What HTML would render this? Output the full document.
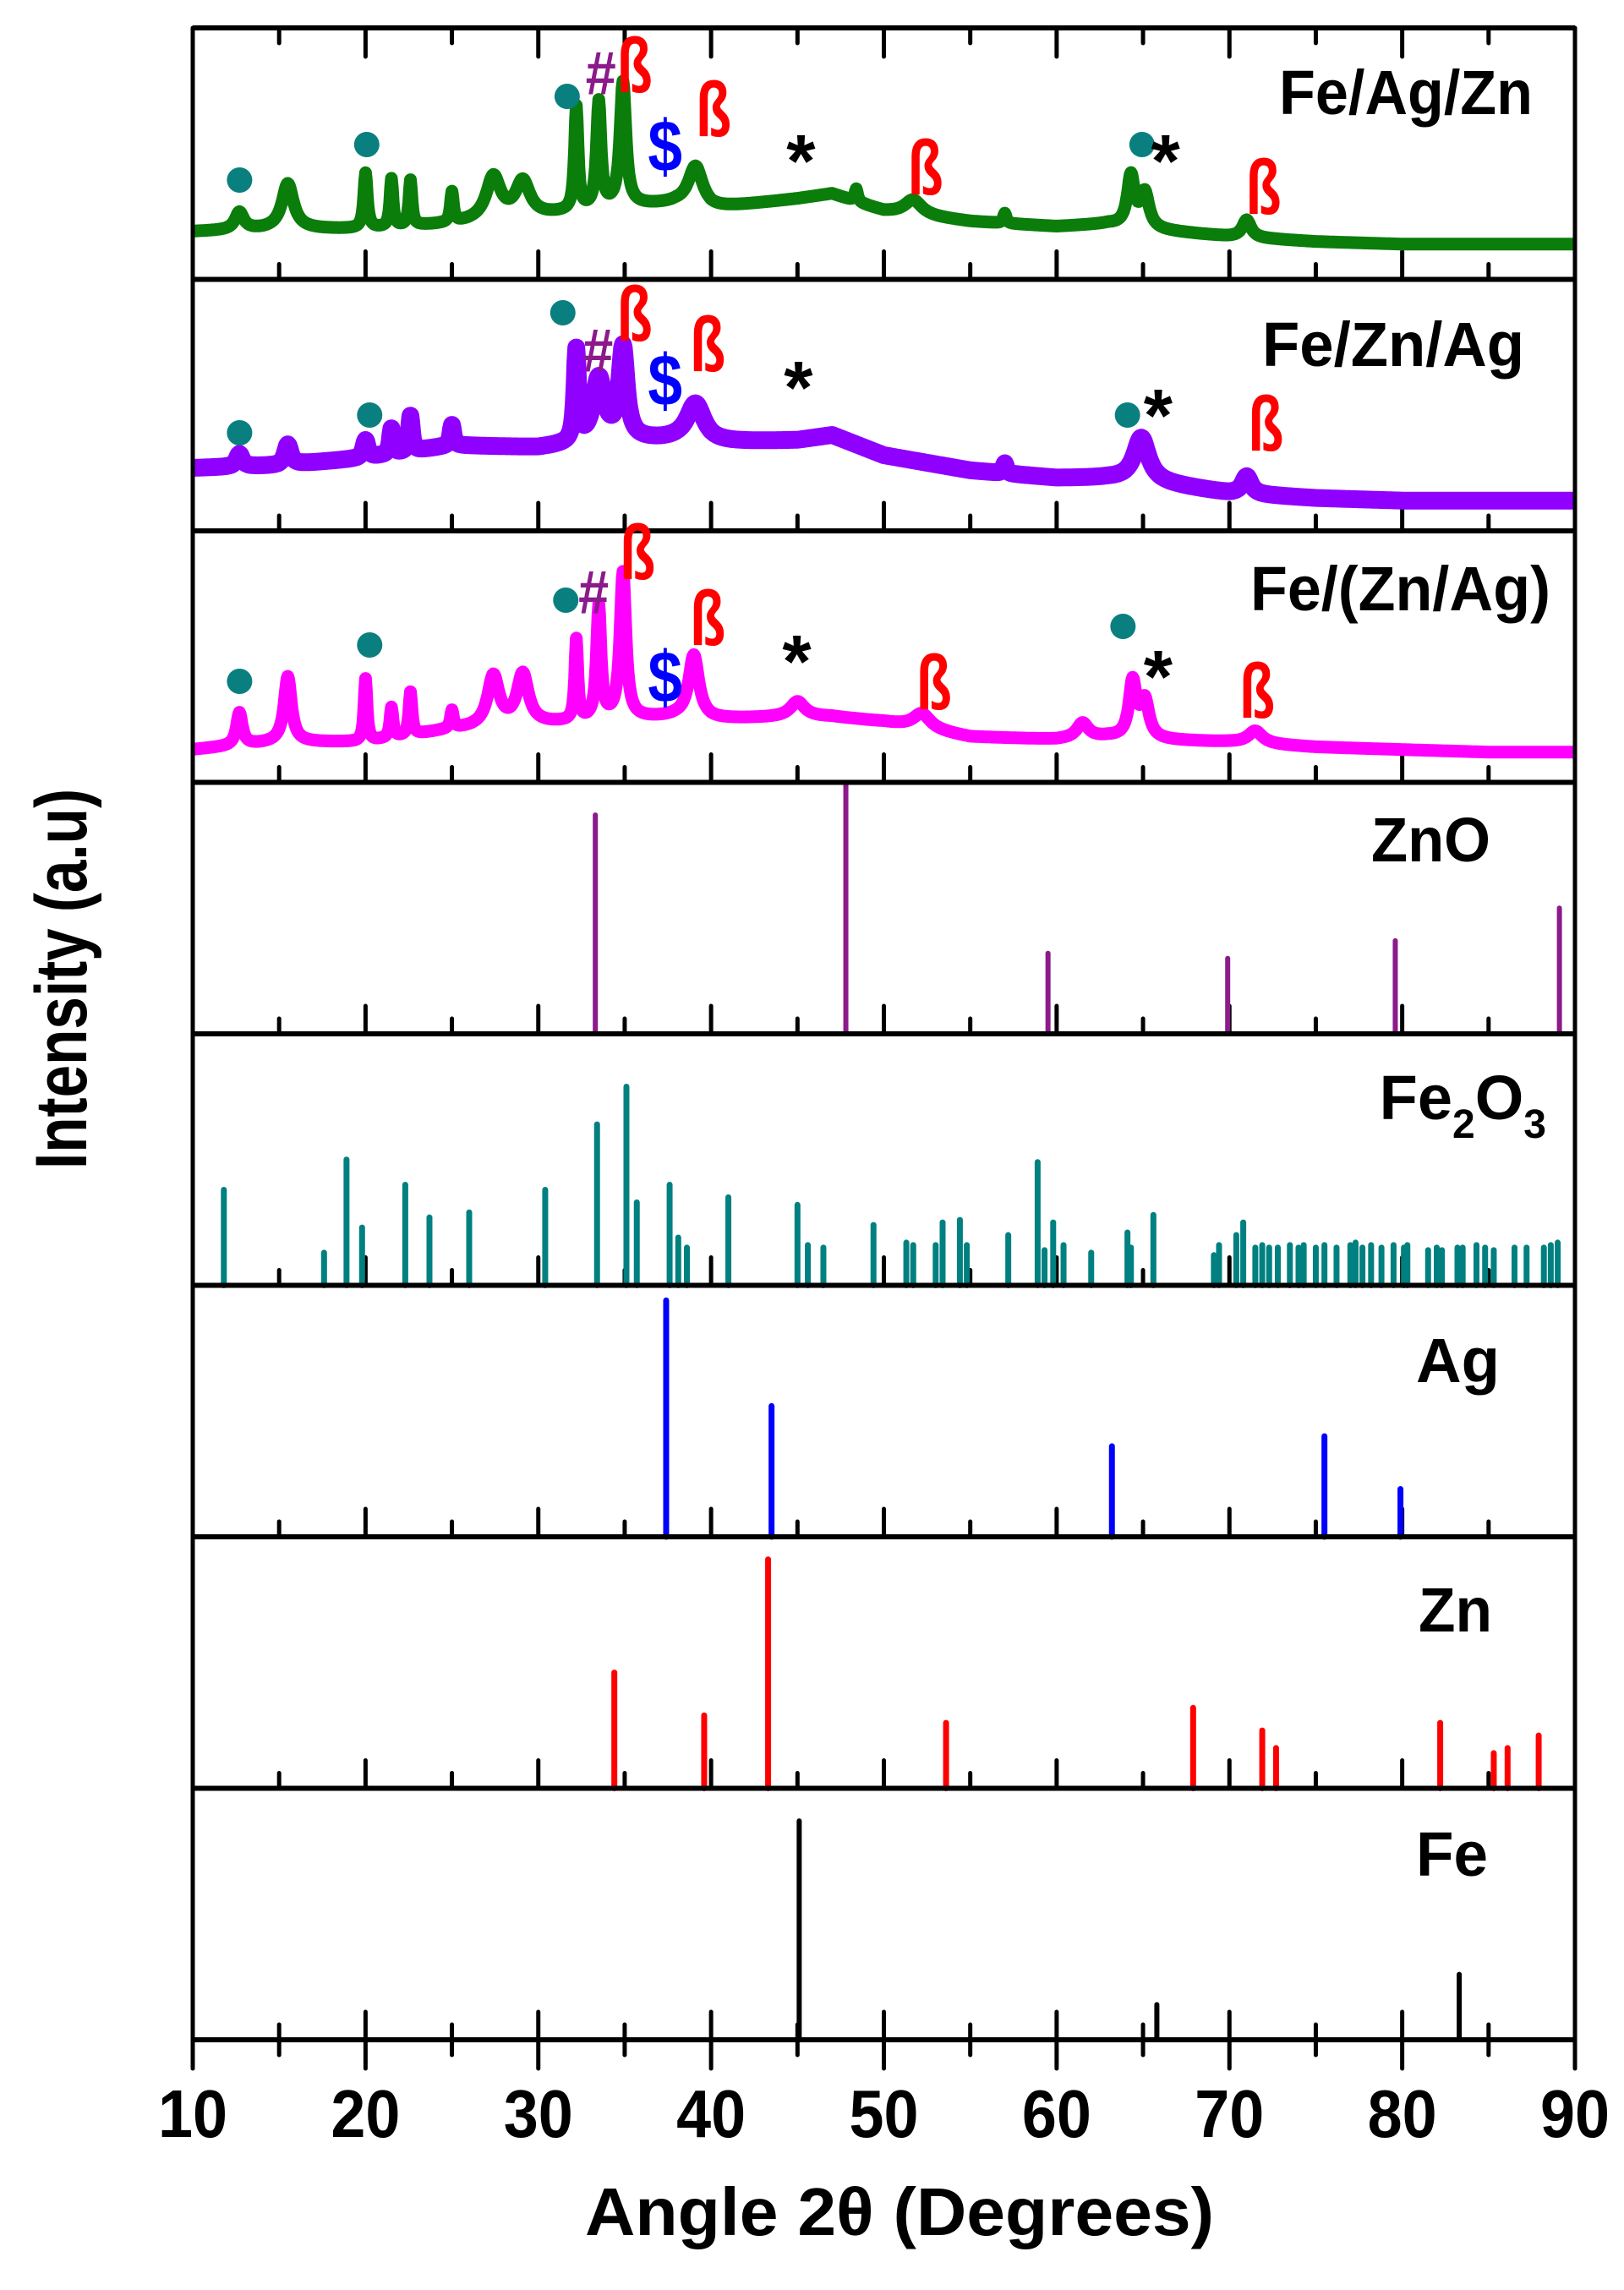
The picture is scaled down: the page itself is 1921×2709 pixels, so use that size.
<!DOCTYPE html>
<html><head><meta charset="utf-8">
<style>
html,body{margin:0;padding:0;background:#fff;}
svg{display:block;}
text{font-family:"Liberation Sans",Arial,sans-serif;font-weight:bold;}
</style></head>
<body>
<svg id="chart" width="1921" height="2709" viewBox="0 0 1921 2709" xmlns="http://www.w3.org/2000/svg">
<g id="plot"></g>
<text transform="translate(102,1158) rotate(-90)" text-anchor="middle" font-size="86" textLength="450" lengthAdjust="spacingAndGlyphs">Intensity (a.u)</text>
<text x="1064" y="2644" text-anchor="middle" font-size="80" textLength="744" lengthAdjust="spacingAndGlyphs">Angle 2θ  (Degrees)</text>
</svg>
<script>
// ---------- data ----------
var xTicks = [10,20,30,40,50,60,70,80,90];
var panelNames = ["Fe/Ag/Zn","Fe/Zn/Ag","Fe/(Zn/Ag)","ZnO","Fe2O3","Ag","Zn","Fe"];

// trace backgrounds (fraction of panel height) at these angles
var bgAngles = [10,15,20,25,30,35,38,40,45,47,50,55,60,63,65,70,75,80,85,90];
var bgFeAgZn = [.19,.20,.20,.22,.25,.29,.30,.28,.32,.34,.27,.23,.21,.22,.20,.17,.15,.14,.14,.14];
var bgFeZnAg = [.25,.26,.29,.34,.33,.36,.36,.35,.36,.38,.30,.24,.21,.21,.20,.15,.13,.12,.12,.12];
var bgFeZnAg2 = [.13,.16,.16,.21,.23,.25,.26,.25,.26,.26,.24,.18,.17,.18,.17,.16,.14,.13,.12,.12];

// peaks: position (deg), height (fraction), half-width (deg)
var pkPosFeAgZn = [12.7,15.5,20.0,21.5,22.6,25.0,27.4,29.1,32.2,33.5,34.9,39.1,48.4,51.7,57.0,64.3,65.1,71.0];
var pkHFeAgZn   = [.07,.18,.22,.19,.18,.12,.17,.14,.41,.42,.49,.16,.05,.06,.04,.20,.14,.07];
var pkWFeAgZn   = [.3,.4,.12,.1,.1,.1,.5,.5,.12,.15,.2,.5,.1,.6,.1,.25,.3,.3];

var pkPosFeZnAg = [12.7,15.5,20.0,21.5,22.6,25.0,32.2,33.5,34.9,39.1,57.0,64.9,71.0];
var pkHFeZnAg   = [.05,.08,.07,.10,.14,.08,.36,.25,.36,.15,.04,.17,.07];
var pkWFeZnAg   = [.2,.2,.15,.1,.1,.1,.12,.4,.25,.6,.1,.5,.3];

var pkPosFeZnAg2 = [12.7,15.5,20.0,21.5,22.6,25.0,27.4,29.1,32.2,33.5,34.9,39.0,45.0,52.2,61.5,64.4,65.1,71.5];
var pkHFeZnAg2   = [.13,.26,.25,.12,.17,.07,.20,.20,.32,.45,.58,.25,.06,.06,.06,.22,.15,.05];
var pkWFeZnAg2   = [.2,.25,.1,.1,.1,.1,.4,.4,.1,.15,.2,.35,.5,.6,.4,.25,.3,.5];

// reference sticks
var znoPos = [33.3,47.8,59.5,69.9,79.6,89.1];
var znoH   = [.87,1.0,.32,.30,.37,.50];
var fe2o3Pos = [11.8,17.6,18.9,19.8,22.3,23.7,26.0,30.4,33.4,35.1,35.7,37.6,38.1,38.6,41.0,45.0,45.6,46.5,49.4,51.3,51.7,53.0,53.4,54.4,54.8,57.2,58.9,59.3,59.8,60.4,62.0,64.1,64.3,65.6,69.1,69.4,70.4,70.8,71.5,71.9,72.3,72.8,73.5,74.0,74.3,75.0,75.5,76.2,77.0,77.3,77.7,78.2,78.8,79.5,80.1,80.3,81.5,82.0,82.3,83.2,83.5,84.3,84.8,85.3,86.5,87.2,88.2,88.6,89.0];
var fe2o3H   = [.38,.13,.50,.23,.40,.27,.29,.38,.64,.79,.33,.40,.19,.15,.35,.32,.16,.15,.24,.17,.16,.16,.25,.26,.16,.20,.49,.14,.25,.16,.13,.21,.15,.28,.12,.16,.20,.25,.15,.16,.15,.15,.16,.15,.16,.15,.16,.15,.16,.17,.15,.16,.15,.16,.15,.16,.14,.15,.14,.15,.15,.16,.15,.14,.15,.15,.15,.16,.17];
var agPos = [37.4,43.5,63.2,75.5,79.9];
var agH   = [.94,.52,.36,.40,.19];
var znPos = [34.4,39.6,43.3,53.6,67.9,71.9,72.7,82.2,85.3,86.1,87.9];
var znH   = [.46,.29,.91,.26,.32,.23,.16,.26,.14,.16,.21];
var fePos = [45.1,65.8,83.3];
var feH   = [.87,.14,.26];

// annotation symbols: [angle, y(px)] per panel
var dotMarks = [[12.71,213],[20.07,171],[31.67,114],[64.94,171],[12.71,512],[20.24,491],[31.42,370],[64.1,491],[12.71,806],[20.24,763],[31.59,710],[63.84,741]];
var hashMarks = [[33.62,87],[33.45,415],[33.2,701]];
var betaMarks = [[35.57,78],[40.14,130],[52.4,199],[71.97,222],[35.57,372],[39.8,408],[72.1,502],[35.74,654],[39.8,732],[52.9,808],[71.6,818]];
var dollarMarks = [[37.34,173],[37.34,450],[37.34,801]];
var starMarks = [[45.2,190],[66.3,190],[45.05,458],[65.87,491],[44.96,782],[65.87,800]];

// ---------- layout ----------
var L=228, R=1863, T=33, B=2413, NP=8, PH=(B-T)/NP;
function xs(d){return L+(d-10)/80*(R-L);}
function pBottom(i){return T+PH*(i+1);}
function ys(i,f){return pBottom(i)-f*PH;}
var NS="http://www.w3.org/2000/svg";
var plot=document.getElementById('plot');
function mk(tag,attrs,parent){var e=document.createElementNS(NS,tag);for(var k in attrs)e.setAttribute(k,attrs[k]);(parent||plot).appendChild(e);return e;}

function interpBg(d,bg){
  for(var k=0;k<bgAngles.length-1;k++){
    if(d<=bgAngles[k+1]){var t=(d-bgAngles[k])/(bgAngles[k+1]-bgAngles[k]);return bg[k]+t*(bg[k+1]-bg[k]);}
  }
  return bg[bg.length-1];
}
function traceVal(d,bg,pp,ph,pw){
  var v=interpBg(d,bg);
  for(var k=0;k<pp.length;k++){var u=(d-pp[k])/pw[k];v+=ph[k]/(1+u*u);}
  return v;
}
function drawTrace(i,bg,pp,ph,pw,color,sw,name){
  var pts=[];
  for(var d=10;d<=90.001;d+=0.05){pts.push(xs(d).toFixed(1)+","+ys(i,traceVal(d,bg,pp,ph,pw)).toFixed(1));}
  var p=mk('polyline',{points:pts.join(" "),fill:"none",stroke:color,"stroke-width":sw,"stroke-linejoin":"round"});
  
  
}
function drawSticks(i,pos,h,color,w,name){
  var g=mk('g',{});
  
  
  for(var k=0;k<pos.length;k++){
    var ln=mk('line',{x1:xs(pos[k]),x2:xs(pos[k]),y1:pBottom(i),y2:ys(i,h[k]),stroke:color,"stroke-width":w,"stroke-linecap":"round"},g);
    
    
  }
}

// ticks inside each panel (drawn first, under data)
for(var i=0;i<NP;i++){
  for(var d=10;d<=90;d+=5){
    var major=(d%10===0), len=major?33:18;
    var t=mk('line',{x1:xs(d),x2:xs(d),y1:pBottom(i),y2:pBottom(i)-len,stroke:"#000","stroke-width":5,"stroke-linecap":"round"});
    
    
  }
}
for(var d=10;d<=90;d+=5){
  var major=(d%10===0), len=major?34:18;
  var t1=mk('line',{x1:xs(d),x2:xs(d),y1:T,y2:T+len,stroke:"#000","stroke-width":5,"stroke-linecap":"round"});
  
  
  var t2=mk('line',{x1:xs(d),x2:xs(d),y1:B,y2:B+len,stroke:"#000","stroke-width":5,"stroke-linecap":"round"});
  
  
}

drawTrace(0,bgFeAgZn,pkPosFeAgZn,pkHFeAgZn,pkWFeAgZn,"#0a7d0a",15,"trace-fe-ag-zn");
drawTrace(1,bgFeZnAg,pkPosFeZnAg,pkHFeZnAg,pkWFeZnAg,"#8f00ff",21,"trace-fe-zn-ag");
drawTrace(2,bgFeZnAg2,pkPosFeZnAg2,pkHFeZnAg2,pkWFeZnAg2,"#ff00ff",15,"trace-fe-zn-ag-composite");
drawSticks(3,znoPos,znoH,"#8b1a8b",6,"zno-reference");
drawSticks(4,fe2o3Pos,fe2o3H,"#008080",7,"fe2o3-reference");
drawSticks(5,agPos,agH,"#0000ff",7,"ag-reference");
drawSticks(6,znPos,znH,"#ff0000",7,"zn-reference");
drawSticks(7,fePos,feH,"#000000",6,"fe-reference");

// frame & panel separators
for(var i=0;i<=NP;i++){
  var y=T+PH*i;
  var s=mk('line',{x1:L,x2:R,y1:y,y2:y,stroke:"#000","stroke-width":6});
  
  
}
var la=mk('line',{x1:L,x2:L,y1:T,y2:B,stroke:"#000","stroke-width":5});


var ra=mk('line',{x1:R,x2:R,y1:T,y2:B,stroke:"#000","stroke-width":5});



// tick labels
for(var k=0;k<xTicks.length;k++){
  var tl=mk('text',{x:xs(xTicks[k]),y:2528,"text-anchor":"middle","font-size":80,textLength:82,lengthAdjust:"spacingAndGlyphs"});
  tl.textContent=String(xTicks[k]);
  
  
}

// panel labels
var labRight=[1813,1803,1834,1763,1829,1774,1765,1760];
var labBase=[135,433,722,1019,1324,1635,1930,2219];
var labLen=[300,310,355,141,0,99,87,85];
for(var i=0;i<NP;i++){
  var tx=mk('text',{x:labRight[i],y:labBase[i],"text-anchor":"end","font-size":74});
  if(i===4){
    tx.innerHTML='Fe<tspan font-size="48" dy="22">2</tspan><tspan dy="-22">O</tspan><tspan font-size="48" dy="22">3</tspan>';
  } else {
    tx.textContent=panelNames[i];
    tx.setAttribute('textLength',labLen[i]);
    tx.setAttribute('lengthAdjust','spacingAndGlyphs');
  }
  
  
}

// annotations
dotMarks.forEach(function(m){
  var c=mk('ellipse',{cx:xs(m[0]),cy:m[1],rx:15,ry:15,fill:"#0a7f7f"});
  
  
});
function sym(list,ch,color,size,name,w,sx){
  list.forEach(function(m){
    var t=mk('text',{x:xs(m[0]),y:m[1],"text-anchor":"middle","dominant-baseline":"central","font-size":size,fill:color,"font-weight":w});
    if(sx){t.setAttribute('transform','translate('+xs(m[0])+','+m[1]+') scale('+sx+',1) translate('+(-xs(m[0]))+','+(-m[1])+')');}
    t.textContent=ch;
    
    
  });
}
sym(hashMarks,"#","#8b1a8b",72,"zno-marker","bold",0.9);
sym(betaMarks,"ß","#ff0000",92,"zn-marker","normal",0.75);
sym(dollarMarks,"$","#0000ff",86,"ag-marker","normal",0.85);
sym(starMarks,"*","#000",88,"fe-marker","bold");
</script>
</body></html>
